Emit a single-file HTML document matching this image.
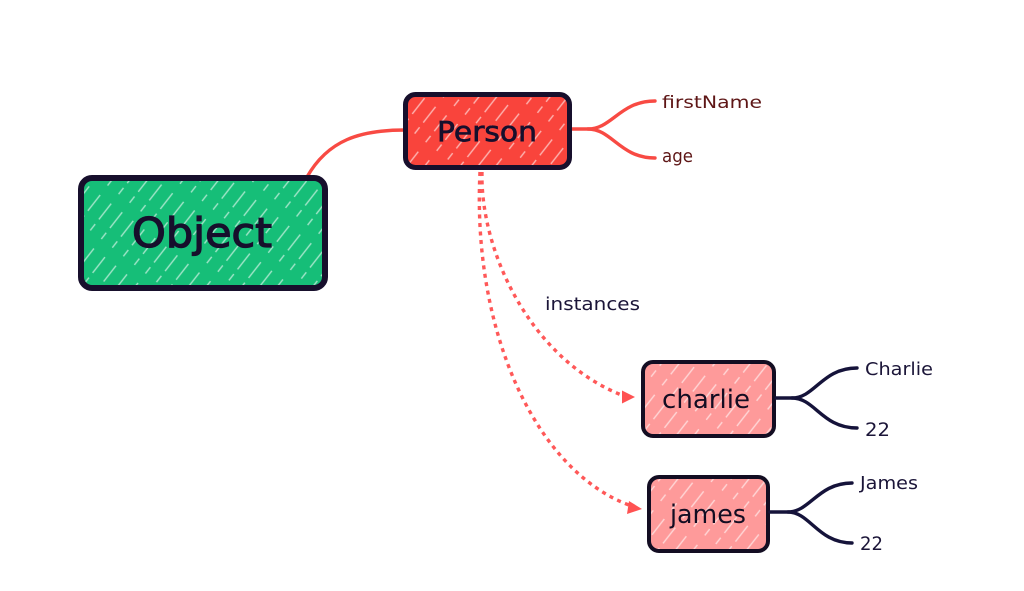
<!DOCTYPE html>
<html>
<head>
<meta charset="utf-8">
<style>
  html,body{margin:0;padding:0;background:#fff;}
  svg{display:block;}
  text{font-family:"DejaVu Sans","Liberation Sans",sans-serif;}
</style>
</head>
<body>
<svg width="1024" height="591" viewBox="0 0 1024 591" xmlns="http://www.w3.org/2000/svg">
  <defs>
    <pattern id="hatch" width="14" height="46" patternUnits="userSpaceOnUse" patternTransform="rotate(38)">
      <line x1="3" y1="0" x2="3" y2="46" stroke="#ffffff" stroke-width="1.4" stroke-dasharray="20 6 8 12" opacity="0.6"/>
    </pattern>
  </defs>
  <rect width="1024" height="591" fill="#ffffff"/>

  <!-- connector Object -> Person -->
  <path d="M307,177 C 328,140 360,130 405,130" fill="none" stroke="#f84a43" stroke-width="3.4" stroke-linecap="round"/>

  <!-- Person fork -->
  <path d="M572,129 L588,129 C 612,129 620,101 655,101" fill="none" stroke="#f84a43" stroke-width="3.4" stroke-linecap="round"/>
  <path d="M588,129 C 612,129 620,158 655,158" fill="none" stroke="#f84a43" stroke-width="3.4" stroke-linecap="round"/>

  <!-- dotted instance connectors -->
  <path d="M482,172 C 480,250 530,360 624,396" fill="none" stroke="#ff5858" stroke-width="3.4" stroke-dasharray="4 4.5"/>
  <polygon points="635,397 622,390.5 622,403.5" fill="#ff5252"/>
  <path d="M480,172 C 472,330 535,470 629,505" fill="none" stroke="#ff5858" stroke-width="3.4" stroke-dasharray="4 4.5"/>
  <polygon points="642,509 629,501 627,514" fill="#ff5252"/>

  <!-- Object box -->
  <rect x="81" y="178" width="244" height="110" rx="11" fill="#16be78"/>
  <rect x="81" y="178" width="244" height="110" rx="11" fill="url(#hatch)"/>
  <rect x="81" y="178" width="244" height="110" rx="11" fill="none" stroke="#170f2c" stroke-width="6"/>
  <text x="132" y="247" font-size="41" fill="#170f2c" stroke="#170f2c" stroke-width="1.3" textLength="140" lengthAdjust="spacingAndGlyphs">Object</text>

  <!-- Person box -->
  <rect x="405.5" y="94.5" width="164" height="73" rx="10" fill="#f9443c"/>
  <rect x="405.5" y="94.5" width="164" height="73" rx="10" fill="url(#hatch)"/>
  <rect x="405.5" y="94.5" width="164" height="73" rx="10" fill="none" stroke="#170f2c" stroke-width="5"/>
  <text x="437" y="141" font-size="28" fill="#170f2c" stroke="#170f2c" stroke-width="0.7" textLength="100" lengthAdjust="spacingAndGlyphs">Person</text>

  <text x="662" y="108" font-size="17" fill="#5e1616" textLength="100" lengthAdjust="spacingAndGlyphs">firstName</text>
  <text x="662" y="162" font-size="17.5" fill="#5e1616" textLength="31" lengthAdjust="spacingAndGlyphs">age</text>

  <text x="545" y="310" font-size="18" fill="#1b1538" textLength="95" lengthAdjust="spacingAndGlyphs">instances</text>

  <!-- charlie box -->
  <rect x="643" y="362" width="131" height="74" rx="10" fill="#fe9a9a"/>
  <rect x="643" y="362" width="131" height="74" rx="10" fill="url(#hatch)"/>
  <rect x="643" y="362" width="131" height="74" rx="10" fill="none" stroke="#130d22" stroke-width="4"/>
  <text x="662" y="408" font-size="26" fill="#130d22" textLength="88" lengthAdjust="spacingAndGlyphs">charlie</text>

  <path d="M776,398 L792,398 C 815,398 822,368 857,368" fill="none" stroke="#15133a" stroke-width="3.4" stroke-linecap="round"/>
  <path d="M792,398 C 815,398 822,428 857,428" fill="none" stroke="#15133a" stroke-width="3.4" stroke-linecap="round"/>
  <text x="865" y="375" font-size="18" fill="#1b1538" textLength="68" lengthAdjust="spacingAndGlyphs">Charlie</text>
  <text x="865" y="436" font-size="19" fill="#1b1538" textLength="25" lengthAdjust="spacingAndGlyphs">22</text>

  <!-- james box -->
  <rect x="649" y="477" width="119" height="74" rx="10" fill="#fe9a9a"/>
  <rect x="649" y="477" width="119" height="74" rx="10" fill="url(#hatch)"/>
  <rect x="649" y="477" width="119" height="74" rx="10" fill="none" stroke="#130d22" stroke-width="4"/>
  <text x="670" y="523" font-size="26" fill="#130d22" textLength="76" lengthAdjust="spacingAndGlyphs">james</text>

  <path d="M770,512 L788,512 C 810,512 818,483 852,483" fill="none" stroke="#15133a" stroke-width="3.4" stroke-linecap="round"/>
  <path d="M788,512 C 810,512 818,543 852,543" fill="none" stroke="#15133a" stroke-width="3.4" stroke-linecap="round"/>
  <text x="860" y="489" font-size="18" fill="#1b1538" textLength="58" lengthAdjust="spacingAndGlyphs">James</text>
  <text x="860" y="550" font-size="19" fill="#1b1538" textLength="23" lengthAdjust="spacingAndGlyphs">22</text>
</svg>
</body>
</html>
